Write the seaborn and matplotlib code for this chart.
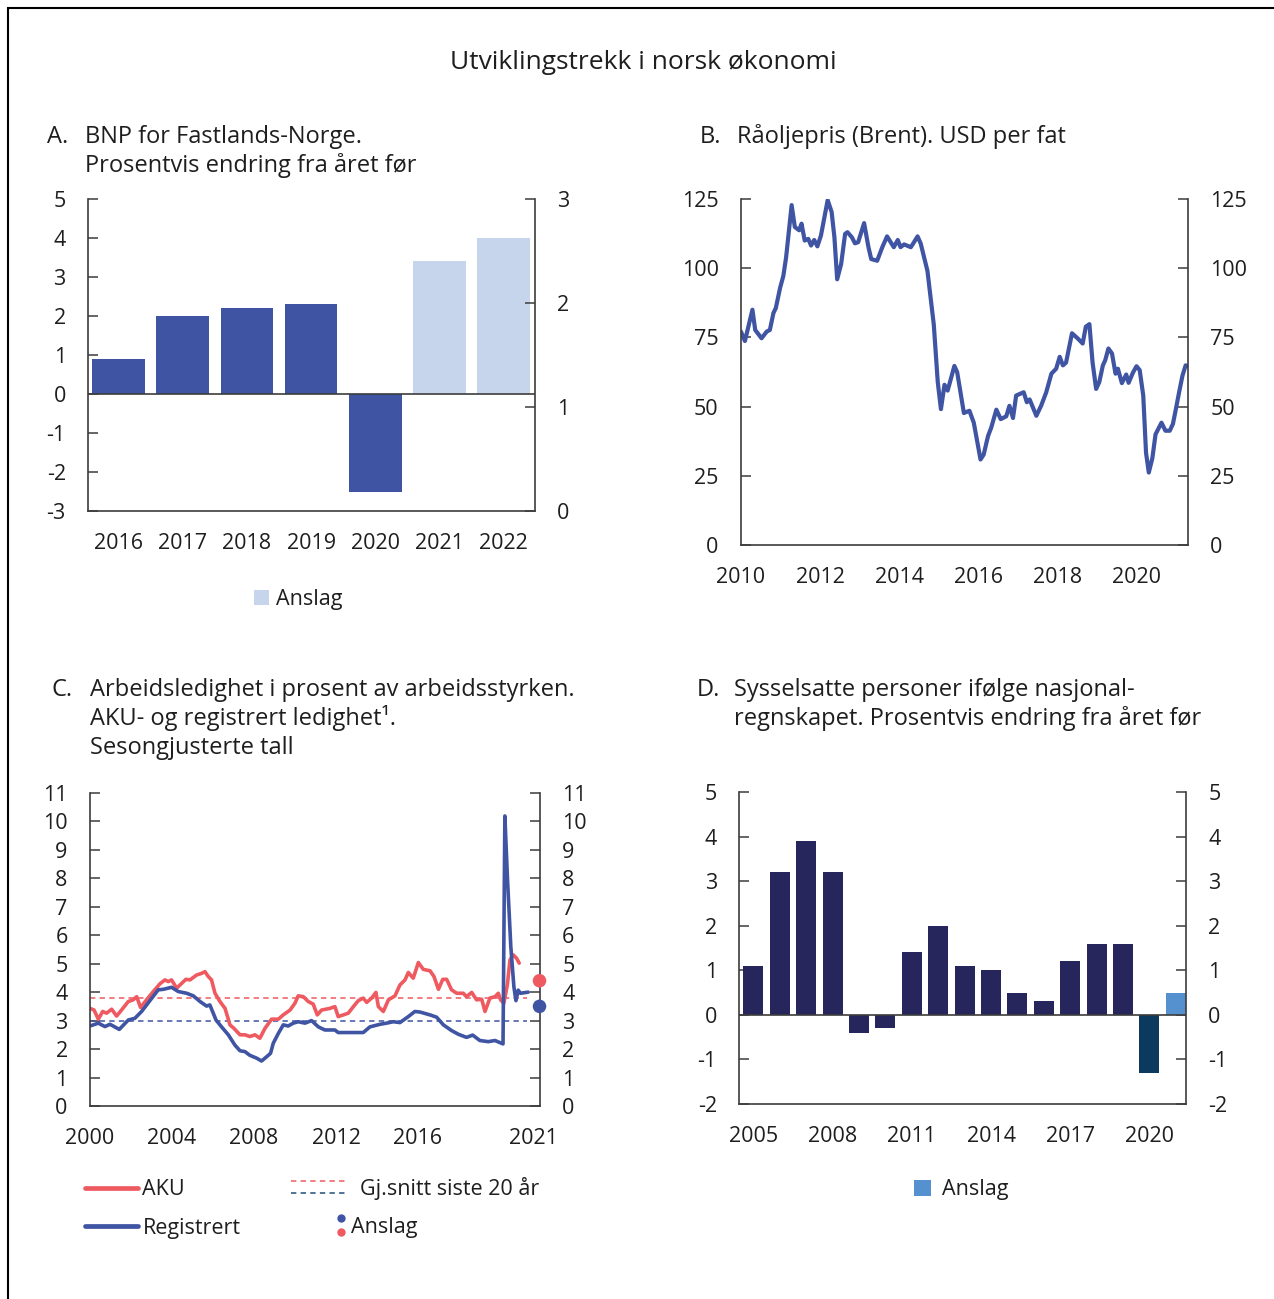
import matplotlib
matplotlib.use("Agg")
import matplotlib.pyplot as plt
import seaborn as sns
from matplotlib.patches import Patch, Rectangle
from matplotlib.lines import Line2D
from matplotlib.legend_handler import HandlerBase

# ---------------- data ----------------
# A. BNP Fastlands-Norge
bnp_years = ["2016", "2017", "2018", "2019", "2020", "2021", "2022"]
bnp_values = [0.9, 2.0, 2.2, 2.3, -2.5, 3.4, 4.0]
bnp_forecast = [False, False, False, False, False, True, True]

# B. Brent oil price (USD per barrel)
brent_t = [2010.00, 2010.10, 2010.29, 2010.36, 2010.52, 2010.65, 2010.73, 2010.82, 2010.88, 2010.99,
           2011.07, 2011.14, 2011.28, 2011.36, 2011.47, 2011.53, 2011.61, 2011.70, 2011.77, 2011.85,
           2011.93, 2012.02, 2012.19, 2012.29, 2012.36, 2012.43, 2012.53, 2012.63, 2012.69, 2012.80,
           2012.88, 2012.96, 2013.11, 2013.22, 2013.29, 2013.44, 2013.57, 2013.69, 2013.86, 2013.96,
           2014.03, 2014.12, 2014.29, 2014.37, 2014.46, 2014.54, 2014.71, 2014.87, 2014.97, 2015.05,
           2015.14, 2015.22, 2015.39, 2015.46, 2015.63, 2015.77, 2015.88, 2016.05, 2016.13, 2016.24,
           2016.32, 2016.45, 2016.56, 2016.70, 2016.78, 2016.87, 2016.95, 2017.14, 2017.22, 2017.29,
           2017.46, 2017.58, 2017.71, 2017.84, 2017.96, 2018.05, 2018.13, 2018.21, 2018.36, 2018.50,
           2018.63, 2018.71, 2018.80, 2018.88, 2018.97, 2019.05, 2019.14, 2019.20, 2019.28, 2019.37,
           2019.46, 2019.52, 2019.62, 2019.73, 2019.79, 2019.90, 2019.99, 2020.07, 2020.16, 2020.23,
           2020.30, 2020.39, 2020.47, 2020.62, 2020.72, 2020.83, 2020.91, 2021.00, 2021.06, 2021.15,
           2021.23, 2021.29]
brent_v = [77.1, 73.7, 85.0, 77.7, 74.7, 77.1, 77.7, 83.8, 85.6, 93.0,
           97.2, 103.9, 122.8, 114.9, 113.7, 116.1, 110.0, 110.6, 108.2, 110.2,
           107.9, 111.8, 124.6, 120.3, 111.2, 96.0, 101.5, 112.4, 113.0, 111.2,
           109.0, 109.4, 116.3, 107.6, 103.3, 102.7, 107.6, 111.5, 107.6, 110.2,
           107.6, 108.6, 107.6, 109.4, 111.5, 108.9, 99.0, 79.6, 58.9, 49.1,
           57.9, 55.8, 64.7, 62.5, 47.7, 48.5, 44.2, 30.9, 32.7, 39.4,
           42.4, 48.9, 45.5, 46.5, 50.3, 45.9, 54.0, 55.2, 51.6, 52.6,
           46.7, 50.3, 55.2, 61.9, 63.7, 68.0, 64.9, 65.9, 76.5, 74.7,
           72.8, 78.9, 79.8, 65.9, 56.4, 58.9, 64.9, 66.8, 71.0, 69.2,
           61.9, 63.7, 58.5, 61.6, 58.6, 62.3, 64.6, 63.2, 54.0, 33.3,
           26.2, 31.4, 40.0, 44.2, 41.3, 41.3, 43.8, 50.3, 54.8, 61.2,
           64.9, 64.7]

# C. Unemployment
aku_t = [2000.00, 2000.20, 2000.41, 2000.62, 2000.81, 2001.06, 2001.30, 2001.54, 2001.87, 2002.11,
         2002.28, 2002.47, 2002.76, 2003.09, 2003.41, 2003.66, 2003.82, 2003.98, 2004.23, 2004.39,
         2004.68, 2004.88, 2005.20, 2005.45, 2005.61, 2005.77, 2005.93, 2006.10, 2006.34, 2006.59,
         2006.83, 2007.02, 2007.32, 2007.56, 2007.80, 2008.05, 2008.29, 2008.54, 2008.86, 2009.19,
         2009.43, 2009.76, 2010.00, 2010.16, 2010.41, 2010.65, 2010.89, 2011.09, 2011.30, 2011.71,
         2011.95, 2012.11, 2012.36, 2012.60, 2012.85, 2013.09, 2013.33, 2013.50, 2013.74, 2013.95,
         2014.07, 2014.31, 2014.56, 2014.88, 2015.12, 2015.37, 2015.53, 2015.77, 2016.02, 2016.26,
         2016.59, 2016.78, 2017.00, 2017.21, 2017.40, 2017.64, 2017.89, 2018.21, 2018.37, 2018.62,
         2018.86, 2019.11, 2019.27, 2019.51, 2019.76, 2019.92, 2020.03, 2020.19, 2020.36, 2020.49,
         2020.65, 2020.81, 2020.94]
aku_v = [3.43, 3.37, 3.05, 3.32, 3.26, 3.40, 3.16, 3.37, 3.67, 3.73,
         3.84, 3.46, 3.73, 4.02, 4.29, 4.43, 4.37, 4.43, 4.14, 4.25,
         4.45, 4.43, 4.60, 4.66, 4.72, 4.55, 4.43, 3.96, 3.67, 3.43,
         2.85, 2.73, 2.50, 2.50, 2.44, 2.50, 2.38, 2.73, 3.05, 3.05,
         3.20, 3.37, 3.61, 3.87, 3.84, 3.67, 3.58, 3.20, 3.37, 3.43,
         3.49, 3.14, 3.20, 3.26, 3.49, 3.70, 3.79, 3.64, 3.79, 3.99,
         3.49, 3.32, 3.73, 3.87, 4.25, 4.43, 4.69, 4.49, 5.04, 4.80,
         4.75, 4.55, 4.10, 4.45, 4.45, 4.08, 3.96, 3.96, 3.84, 3.99,
         3.73, 3.75, 3.32, 3.79, 3.84, 3.96, 3.73, 3.61, 4.25, 5.13,
         5.31, 5.19, 5.02]
reg_t = [2000.00, 2000.41, 2000.73, 2000.98, 2001.43, 2001.87, 2002.19, 2002.52, 2003.01, 2003.33,
         2003.59, 2003.98, 2004.31, 2004.72, 2005.04, 2005.37, 2005.69, 2005.85, 2006.15, 2006.42,
         2006.75, 2007.07, 2007.32, 2007.56, 2007.80, 2008.13, 2008.37, 2008.62, 2008.81, 2008.94,
         2009.19, 2009.43, 2009.67, 2009.92, 2010.16, 2010.49, 2010.81, 2011.14, 2011.46, 2011.95,
         2012.11, 2012.52, 2013.33, 2013.66, 2014.15, 2014.47, 2014.80, 2015.12, 2015.53, 2015.85,
         2016.10, 2016.59, 2016.91, 2017.24, 2017.64, 2017.97, 2018.37, 2018.67, 2019.02, 2019.43,
         2019.76, 2020.15, 2020.24, 2020.37, 2020.53, 2020.68, 2020.78, 2020.89, 2021.00, 2021.38]
reg_v = [2.81, 2.91, 2.79, 2.87, 2.69, 3.02, 3.08, 3.32, 3.78, 4.08,
         4.10, 4.17, 4.02, 3.96, 3.87, 3.67, 3.51, 3.55, 3.02, 2.78,
         2.50, 2.14, 1.94, 1.91, 1.78, 1.68, 1.58, 1.73, 1.85, 2.20,
         2.55, 2.85, 2.81, 2.91, 2.96, 2.91, 3.00, 2.78, 2.67, 2.67,
         2.58, 2.58, 2.58, 2.78, 2.87, 2.91, 2.96, 2.93, 3.14, 3.32,
         3.30, 3.20, 3.12, 2.85, 2.65, 2.52, 2.41, 2.49, 2.30, 2.26,
         2.30, 2.18, 10.19, 7.94, 5.60, 4.19, 3.70, 4.07, 3.96, 4.00]
aku_mean = 3.8
reg_mean = 3.0
mean_span = [2000.0, 2021.3]
forecast_x = 2021.93
aku_forecast = 4.4
reg_forecast = 3.5

# D. Sysselsatte personer
emp_years = [str(y) for y in range(2005, 2022)]
emp_values = [1.1, 3.2, 3.9, 3.2, -0.4, -0.3, 1.4, 2.0, 1.1, 1.0, 0.5, 0.3, 1.2, 1.6, 1.6, -1.3, 0.5]
emp_kind = ["hist"] * 15 + ["2020", "anslag"]

# ---------------- style ----------------
sns.set_theme(style="white")
plt.rcParams["font.family"] = ["Open Sans", "DejaVu Sans"]
plt.rcParams["axes.unicode_minus"] = False
plt.rcParams["text.color"] = "#1e1e1e"
plt.rcParams["xtick.color"] = "#1e1e1e"
plt.rcParams["ytick.color"] = "#1e1e1e"

BLUE = "#3F54A3"
LIGHT = "#C6D5EC"
RED = "#EE5A60"
NAVY = "#26265C"
TEAL = "#0C3A5E"
FCAST = "#5591CE"
SPINE = "#3c3c3c"
FS = 15.5
TFS = 17

W, H = 1274, 1299
fig = plt.figure(figsize=(W / 100, H / 100), dpi=100)


def fy(px):
    return 1 - px / H


def fx(px):
    return px / W


def style(ax, both=True):
    ax.spines["top"].set_visible(False)
    for s in ("left", "right", "bottom"):
        ax.spines[s].set_color(SPINE)
        ax.spines[s].set_linewidth(1.2)
    ax.tick_params(axis="y", direction="in", length=7, width=1.1, color=SPINE,
                   labelsize=FS, pad=16, left=True, labelleft=True,
                   right=both, labelright=both)
    ax.tick_params(axis="x", length=0, labelsize=FS, pad=16)
    ax.set_xlabel("")
    ax.set_ylabel("")
    ax.grid(False)


# ---------------- A ----------------
axA = fig.add_axes([0.0691, 0.6066, 0.3509, 0.2402])
palA = {y: (LIGHT if f else BLUE) for y, f in zip(bnp_years, bnp_forecast)}
sns.barplot(x=bnp_years, y=bnp_values, hue=bnp_years, palette=palA, width=0.82,
            saturation=1, legend=False, linewidth=0, ax=axA)
axA.axhline(0, color=SPINE, lw=1.2, zorder=3)
axA.set_xlim(-0.475, 6.49)
axA.set_ylim(-3, 5)
axA.set_yticks(range(-3, 6))
style(axA, both=False)
axA2 = axA.twinx()
axA2.set_ylim(0, 3)
axA2.set_yticks([0, 1, 2, 3])
for s in axA2.spines.values():
    s.set_visible(False)
axA2.tick_params(axis="y", direction="in", length=7, width=1.1, color=SPINE,
                 labelsize=FS, pad=16)
axA2.grid(False)

fig.legend(handles=[Patch(facecolor=LIGHT, edgecolor="none")], labels=["Anslag"],
           loc="center", bbox_to_anchor=(0.234, fy(600)), frameon=False, fontsize=FS,
           handlelength=0.7, handleheight=0.7, handletextpad=0.3, borderpad=0)

# ---------------- B ----------------
axB = fig.add_axes([0.5816, 0.5804, 0.3509, 0.2664])
sns.lineplot(x=brent_t, y=brent_v, color=BLUE, lw=3.0, ax=axB, legend=False)
axB.set_xlim(2010, 2021.29)
axB.set_ylim(0, 125)
axB.set_yticks(range(0, 126, 25))
axB.set_xticks(range(2010, 2021, 2))
axB.set_xticklabels([str(y) for y in range(2010, 2021, 2)])
style(axB)

# ---------------- C ----------------
axC = fig.add_axes([0.0706, 0.1486, 0.3532, 0.2410])
axC.hlines(aku_mean, mean_span[0], mean_span[1], colors=RED, lw=1.1, linestyles=(0, (3.5, 2.8)), zorder=1)
axC.hlines(reg_mean, mean_span[0], mean_span[1], colors=BLUE, lw=1.1, linestyles=(0, (3.5, 2.8)), zorder=1)
sns.lineplot(x=aku_t, y=aku_v, color=RED, lw=2.6, ax=axC, legend=False)
sns.lineplot(x=reg_t, y=reg_v, color=BLUE, lw=2.6, ax=axC, legend=False)
for ln in axC.get_lines():
    ln.set_solid_joinstyle("round")
sns.scatterplot(x=[forecast_x], y=[aku_forecast], color=RED, s=95, edgecolor="none",
                ax=axC, clip_on=False, zorder=5, legend=False)
sns.scatterplot(x=[forecast_x], y=[reg_forecast], color=BLUE, s=95, edgecolor="none",
                ax=axC, clip_on=False, zorder=5, legend=False)
axC.set_xlim(2000, 2021.95)
axC.set_ylim(0, 11)
axC.set_yticks(range(0, 12))
axC.set_xticks([2000, 2004, 2008, 2012, 2016, 2021.65])
axC.set_xticklabels(["2000", "2004", "2008", "2012", "2016", "2021"])
style(axC)


class StackedHandler(HandlerBase):
    def __init__(self, gap, **kw):
        super().__init__(**kw)
        self.gap = gap

    def create_artists(self, legend, orig_handle, xdescent, ydescent, width, height,
                       fontsize, trans):
        arts = []
        n = len(orig_handle)
        yc = height / 2 - ydescent
        for i, h in enumerate(orig_handle):
            y = yc + self.gap * (n - 1) / 2 - i * self.gap
            if h.get_marker() in (None, "None", "", " "):
                a = Line2D([-xdescent, -xdescent + width], [y, y], color=h.get_color(),
                           lw=h.get_linewidth(), ls=h.get_linestyle())
                a.set_dashes((3.5, 2.8))
            else:
                a = Line2D([-xdescent + width / 2], [y], marker="o", ls="none",
                           color=h.get_color(), ms=h.get_markersize(), mec="none")
            a.set_transform(trans)
            arts.append(a)
        return arts


fig.legend(handles=[Line2D([], [], color=RED, lw=3.4), Line2D([], [], color=BLUE, lw=3.4)],
           labels=["AKU", "Registrert"], loc="center left", bbox_to_anchor=(fx(85), fy(1209)),
           frameon=False, fontsize=FS, handlelength=2.45, handletextpad=0.22,
           labelspacing=0.8, borderpad=0, borderaxespad=0)
dash_pair = (Line2D([], [], color=RED, lw=1.1, ls="--"), Line2D([], [], color="#1F4E79", lw=1.1, ls="--"))
fig.legend(handles=[dash_pair], labels=["Gj.snitt siste 20 år"], loc="center left",
           bbox_to_anchor=(fx(291), fy(1188)), frameon=False, fontsize=FS,
           handlelength=2.5, handletextpad=0.7, borderpad=0, borderaxespad=0,
           handler_map={tuple: StackedHandler(8.6)})
dot_pair = (Line2D([], [], color=BLUE, marker="o", ls="none", ms=6),
            Line2D([], [], color=RED, marker="o", ls="none", ms=6))
fig.legend(handles=[dot_pair], labels=["Anslag"], loc="center left",
           bbox_to_anchor=(fx(337), fy(1227)), frameon=False, fontsize=FS,
           handlelength=0.4, handletextpad=0.25, borderpad=0, borderaxespad=0,
           handler_map={tuple: StackedHandler(10)})

# ---------------- D ----------------
axD = fig.add_axes([0.5801, 0.1501, 0.3509, 0.2402])
kind_col = {"hist": NAVY, "2020": TEAL, "anslag": FCAST}
palD = {y: kind_col[k] for y, k in zip(emp_years, emp_kind)}
sns.barplot(x=emp_years, y=emp_values, hue=emp_years, palette=palD, width=0.76,
            saturation=1, legend=False, linewidth=0, ax=axD)
axD.axhline(0, color=SPINE, lw=1.2, zorder=3)
axD.set_xlim(-0.545, 16.39)
axD.set_ylim(-2, 5)
axD.set_yticks(range(-2, 6))
axD.set_xticks([0, 3, 6, 9, 12, 15])
axD.set_xticklabels([emp_years[i] for i in (0, 3, 6, 9, 12, 15)])
style(axD)

fig.legend(handles=[Patch(facecolor=FCAST, edgecolor="none")], labels=["Anslag"],
           loc="center", bbox_to_anchor=(0.7543, fy(1190)), frameon=False, fontsize=FS,
           handlelength=0.8, handleheight=0.8, handletextpad=0.5, borderpad=0)

# ---------------- titles ----------------
fig.text(fx(643), fy(69), "Utviklingstrekk i norsk økonomi", ha="center", va="baseline", fontsize=19)


def panel_title(letter, lx, tx, ys, lines):
    fig.text(fx(lx), fy(ys[0]), letter, ha="left", va="baseline", fontsize=TFS)
    for y, t in zip(ys, lines):
        fig.text(fx(tx), fy(y), t, ha="left", va="baseline", fontsize=TFS)


panel_title("A.", 47, 85, [143, 172],
            ["BNP for Fastlands-Norge.", "Prosentvis endring fra året før"])
panel_title("B.", 700, 737, [143], ["Råoljepris (Brent). USD per fat"])
panel_title("C.", 52, 90, [696, 725, 754],
            ["Arbeidsledighet i prosent av arbeidsstyrken.", "AKU- og registrert ledighet¹.",
             "Sesongjusterte tall"])
panel_title("D.", 697, 734, [696, 725],
            ["Sysselsatte personer ifølge nasjonal-", "regnskapet. Prosentvis endring fra året før"])

# frame (top and left edges)
fig.add_artist(Rectangle((fx(8), -0.2), 1.3, fy(8) + 0.2, transform=fig.transFigure,
                         fill=False, edgecolor="black", lw=1.5, clip_on=False))

fig.savefig("out.png", dpi=100)
